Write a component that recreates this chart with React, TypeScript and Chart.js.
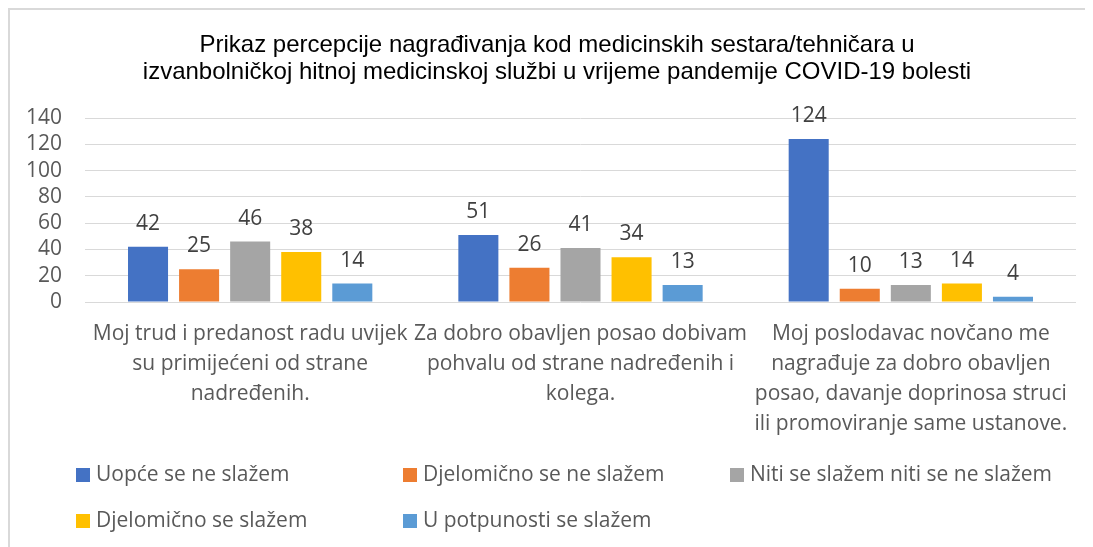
import React, { useEffect, useRef } from "react";
import { Chart, registerables } from "chart.js";

Chart.register(...registerables);

const titleLines = [
  "Prikaz percepcije nagrađivanja kod medicinskih sestara/tehničara u",
  "izvanbolničkoj hitnoj medicinskoj službi u vrijeme pandemije COVID-19 bolesti",
];

const categories = [
  ["Moj trud i predanost radu uvijek", "su primijećeni od strane", "nadređenih."],
  ["Za dobro obavljen posao dobivam", "pohvalu od strane nadređenih i", "kolega."],
  ["Moj poslodavac novčano me", "nagrađuje za dobro obavljen", "posao, davanje doprinosa struci", "ili promoviranje same ustanove."],
];

const seriesNames = [
  "Uopće se ne slažem",
  "Djelomično se ne slažem",
  "Niti se slažem niti se ne slažem",
  "Djelomično se slažem",
  "U potpunosti se slažem",
];

const uopceNe = [42, 51, 124];
const djelomicnoNe = [25, 26, 10];
const nitiNiti = [46, 41, 13];
const djelomicnoDa = [38, 34, 14];
const uPotpunosti = [14, 13, 4];

const seriesValues = [uopceNe, djelomicnoNe, nitiNiti, djelomicnoDa, uPotpunosti];
const seriesColors = ["#4472C4", "#ED7D31", "#A5A5A5", "#FFC000", "#5B9BD5"];

const yMin = 0;
const yMax = 140;
const yStep = 20;

const FONT = "'Open Sans', sans-serif";
const TITLE_FONT = "'Liberation Sans', Arial, sans-serif";

const titlePlugin = {
  id: "customTitle",
  afterDraw(chart: any) {
    const ctx = chart.ctx;
    ctx.save();
    ctx.font = `24px ${TITLE_FONT}`;
    ctx.fillStyle = "#000";
    ctx.textAlign = "center";
    ctx.textBaseline = "middle";
    titleLines.forEach((line, i) => {
      ctx.fillText(line, 547, 35 + i * 27);
    });
    ctx.restore();
  },
};

const valueLabelPlugin = {
  id: "valueLabels",
  afterDatasetsDraw(chart: any) {
    const ctx = chart.ctx;
    ctx.save();
    ctx.font = `21px ${FONT}`;
    ctx.fillStyle = "#404040";
    ctx.textAlign = "center";
    ctx.textBaseline = "middle";
    chart.data.datasets.forEach((ds: any, i: number) => {
      const meta = chart.getDatasetMeta(i);
      meta.data.forEach((bar: any, j: number) => {
        ctx.fillText(String(ds.data[j]), bar.x, bar.y - 23);
      });
    });
    ctx.restore();
  },
};

const gridLegendPlugin = {
  id: "gridLegend",
  afterDraw(chart: any) {
    const ctx = chart.ctx;
    ctx.save();
    ctx.font = `21px ${FONT}`;
    ctx.textBaseline = "middle";
    ctx.textAlign = "left";
    const colX = [66, 393, 720];
    const rowY = [465, 511];
    chart.data.datasets.forEach((ds: any, i: number) => {
      const x = colX[i % 3];
      const y = rowY[Math.floor(i / 3)];
      ctx.fillStyle = ds.backgroundColor;
      ctx.fillRect(x, y - 7, 14, 14);
      ctx.fillStyle = "#595959";
      ctx.fillText(ds.label, x + 20, y);
    });
    ctx.restore();
  },
};

export default function App() {
  const ref = useRef<HTMLCanvasElement>(null);

  useEffect(() => {
    document.documentElement.style.overflow = "hidden";
    document.body.style.overflow = "hidden";
    const chart = new Chart(ref.current as HTMLCanvasElement, {
      type: "bar",
      data: {
        labels: categories,
        datasets: seriesNames.map((name, i) => ({
          label: name,
          data: seriesValues[i],
          backgroundColor: seriesColors[i],
          categoryPercentage: 0.773,
          barPercentage: 0.784,
        })),
      },
      options: {
        responsive: false,
        animation: false,
        layout: { padding: { left: 0, right: 11, top: 108, bottom: 110 } },
        plugins: {
          legend: { display: false },
          tooltip: { enabled: false },
          title: { display: false },
        },
        scales: {
          x: {
            grid: { display: false },
            border: { display: false },
            ticks: {
              color: "#595959",
              font: { family: FONT, size: 21, lineHeight: 1.43 },
              padding: 9,
              autoSkip: false,
              maxRotation: 0,
              minRotation: 0,
            },
            afterFit(scale: any) {
              scale.height = 135;
            },
          },
          y: {
            min: yMin,
            max: yMax,
            grid: { color: "#d9d9d9", lineWidth: 1, drawTicks: false },
            border: { display: false },
            ticks: {
              stepSize: yStep,
              autoSkip: false,
              color: "#595959",
              font: { family: FONT, size: 21 },
              padding: 23,
            },
            afterFit(scale: any) {
              scale.width = 75;
            },
          },
        },
      },
      plugins: [titlePlugin, valueLabelPlugin, gridLegendPlugin],
    } as any);
    return () => chart.destroy();
  }, []);

  return (
    <div
      style={{
        borderTop: "2px solid #d9d9d9",
        borderLeft: "2px solid #d9d9d9",
        width: 1090,
        height: 537,
        background: "#fff",
      }}
    >
      <canvas ref={ref} width={1077} height={537} style={{ display: "block" }} />
    </div>
  );
}
